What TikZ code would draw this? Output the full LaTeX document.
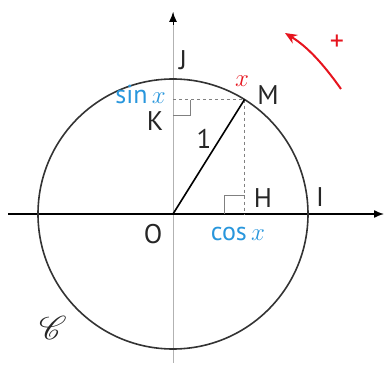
\documentclass[tikz,border=0pt]{standalone}
\usepackage{fontspec}
\setmainfont{PT Sans}
\usepackage{mathrsfs}
\usetikzlibrary{arrows.meta,calc}
\definecolor{lblue}{RGB}{40,150,220}
\definecolor{lred}{RGB}{230,20,30}
\begin{document}
\begin{tikzpicture}[x=1pt,y=1pt,
  lab/.style={font=\fontsize{27}{27}\selectfont, inner sep=0pt, text=black!85},
  blab/.style={font=\fontsize{26}{26}\selectfont, inner sep=0pt, text=lblue},
  dashln/.style={draw=gray, dashed, line width=1pt},
  axisx/.style={line width=1.4pt, -{Latex[length=10pt,width=8pt]}},
  axisy/.style={draw=gray!60, line width=0.9pt},
]
\useasboundingbox (0,0) rectangle (384,365);
\coordinate (O) at (173,151);
\coordinate (Xl) at (8,151);
\coordinate (Xr) at (384,151);
\coordinate (Yb) at (173,2);
\coordinate (Yt) at (173,353);
\coordinate (Yt0) at (173,340);
\coordinate (M) at ($(O)+(58:135)$);
\coordinate (K) at (O |- M);
\coordinate (H) at (O -| M);
% axes
\draw[axisy] (Yb) -- (Yt);
\draw[line width=1pt, -{Latex[length=10pt,width=8pt]}] (Yt0) -- (Yt);
\draw[axisx] (Xl) -- (Xr);
% circle
\draw[line width=1.6pt, black!80] (O) circle (135);
% dashed projections
\draw[dashln] (K) -- (M);
\draw[dashln] (M) -- (H);
% right-angle marks
\draw[gray, line width=0.9pt] ($(K)+(0,-16)$) -- ($(K)+(17,-16)$) -- ($(K)+(17,0)$);
\draw[gray, line width=0.9pt] ($(H)+(-20,0)$) -- ($(H)+(-20,19)$) -- ($(H)+(0,19)$);
% radius
\draw[line width=1.6pt] (O) -- (M);
% labels
\node[lab] (lJ) at (183,305) {J};
\node[blab, anchor=east] (lsin) at (166,271) {sin\,$x$};
\node[lab] (lK) at (155,244) {K};
\node[font=\fontsize{25}{25}\selectfont, inner sep=0pt, text=lred] (lx) at (242,284) {$x$};
\node[lab] (lM) at (268,270) {M};
\node[lab] (l1) at (204,226) {1};
\node[lab] (lH) at (263,167) {H};
\node[lab] (lI) at (320,168) {I};
\node[lab] (lO) at (153,131) {O};
\node[blab] (lcos) at (238,131) {cos\,$x$};
\node[inner sep=0pt, text=black!85] (lC) at (53,37) {\scalebox{3.3}{$\mathscr{C}$}};
% orientation arrow
\coordinate (ra) at (341,276);
\coordinate (rb) at (285,332);
\draw[lred, line width=2pt, -{Stealth[length=12pt,width=10pt]}] (ra) .. controls (324,300) and (308,318) .. (rb);
\node[font=\fontsize{28}{28}\selectfont, inner sep=0pt, text=lred] (plus) at (337,322) {+};
\end{tikzpicture}
\end{document}
